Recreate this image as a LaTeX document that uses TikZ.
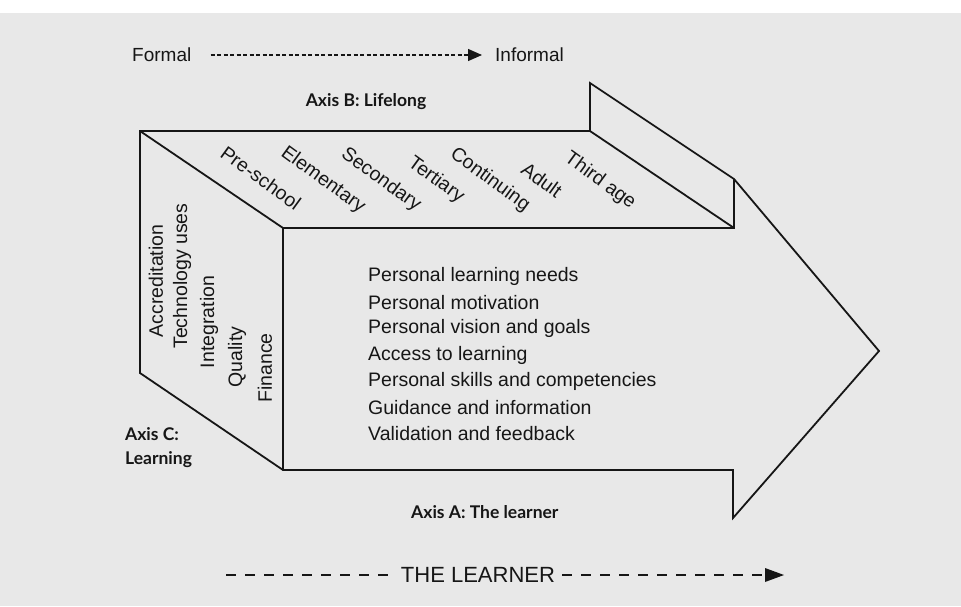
\documentclass[tikz,border=0pt]{standalone}
\usepackage{fontspec}
\setmainfont{Liberation Sans}
\newfontfamily\axisfont{Lato}
\usetikzlibrary{arrows.meta}
\definecolor{ink}{HTML}{161616}
\definecolor{paper}{HTML}{E8E8E8}
\begin{document}
\begin{tikzpicture}[x=1pt,y=-1pt,
  outline/.style={draw=ink, line width=1.8pt, line join=miter},
  txt/.style={font=\fontsize{19.5}{23}\selectfont, text=ink, inner sep=0pt},
  bigtxt/.style={font=\fontsize{22}{26}\selectfont, text=ink, inner sep=0pt},
  axislbl/.style={font=\axisfont\bfseries\fontsize{17.5}{23}\selectfont, text=ink, inner sep=0pt, align=left},
  stage/.style={txt, rotate=-36},
  sideitem/.style={txt, rotate=90},
  shortdash/.style={draw=ink, line width=1.3pt, dash pattern=on 4pt off 2.5pt, -{Triangle[length=14pt,width=12pt]}},
  longdash/.style={draw=ink, line width=1.9pt, dash pattern=on 10pt off 9pt},
]
\useasboundingbox (0,0) rectangle (961,606);
\fill[white] (0,0) rectangle (961,606);
\fill[paper] (0,13) rectangle (961,606);

% corners of the 3D arrow
\coordinate (tl) at (140,131);
\coordinate (nb) at (590,131);
\coordinate (nt) at (590,83);
\coordinate (rt) at (734,179);
\coordinate (tip) at (879,351);
\coordinate (rb) at (733,518);
\coordinate (rbi) at (733,470);
\coordinate (fbl) at (283,470);
\coordinate (lbl) at (140,373);
\coordinate (ftl) at (283,228);
\coordinate (ftr) at (734,228);

\draw[outline] (tl) -- (nb) -- (nt) -- (rt) -- (tip) -- (rb) -- (rbi) -- (fbl) -- (lbl) -- cycle;
\draw[outline] (tl) -- (ftl) -- (fbl);
\draw[outline] (ftl) -- (ftr) -- (rt);
\draw[outline] (nb) -- (ftr);

% top: formal -> informal
\node[txt, anchor=west, font=\fontsize{19}{23}\selectfont] (formal) at (132,55) {Formal};
\node[txt, anchor=west, font=\fontsize{19}{23}\selectfont] (informal) at (495,55) {Informal};
\draw[shortdash] ([xshift=19pt]formal.east) -- ([xshift=-13pt]informal.west);

\node[axislbl] (axisB) at (366,102) {Axis B: Lifelong};

% stages on the top face
\node[stage] (s1) at (261,178) {Pre-school};
\node[stage] (s2) at (323,180) {Elementary};
\node[stage] (s3) at (381,180) {Secondary};
\node[stage] (s4) at (436,180) {Tertiary};
\node[stage] (s5) at (490,180) {Continuing};
\node[stage] (s6) at (542,180) {Adult};
\node[stage] (s7) at (600,181) {Third age};

% left face items
\node[sideitem] (c1) at (156,281) {Accreditation};
\node[sideitem] (c2) at (182,276) {Technology uses};
\node[sideitem] (c3) at (209,322) {Integration};
\node[sideitem] (c4) at (237,357) {Quality};
\node[sideitem] (c5) at (265,368) {Finance};

% front face list
\node[txt, anchor=west] (l1) at (368,276) {Personal learning needs};
\node[txt, anchor=west] (l2) at (368,302.3) {Personal motivation};
\node[txt, anchor=west] (l3) at (368,328.6) {Personal vision and goals};
\node[txt, anchor=west] (l4) at (368,355) {Access to learning};
\node[txt, anchor=west] (l5) at (368,381) {Personal skills and competencies};
\node[txt, anchor=west] (l6) at (368,407.5) {Guidance and information};
\node[txt, anchor=west] (l7) at (368,434) {Validation and feedback};

% axis labels
\node[axislbl, anchor=west] (axisC) at (125,448) {Axis C:\\[1pt]Learning};
\node[axislbl, anchor=west] (axisA) at (411,512) {Axis A: The learner};

% the learner
\node[bigtxt] (learner) at (478,575) {THE LEARNER};
\coordinate (lstart) at (226,575);
\coordinate (lend) at (784,575);
\draw[longdash] (lstart) -- ([xshift=-7pt]learner.west);
\draw[longdash] ([xshift=7pt]learner.east) -- ([xshift=-16pt]lend);
\fill[ink] (lend) -- ++(-19,-7) -- ++(0,14) -- cycle;
\end{tikzpicture}
\end{document}
